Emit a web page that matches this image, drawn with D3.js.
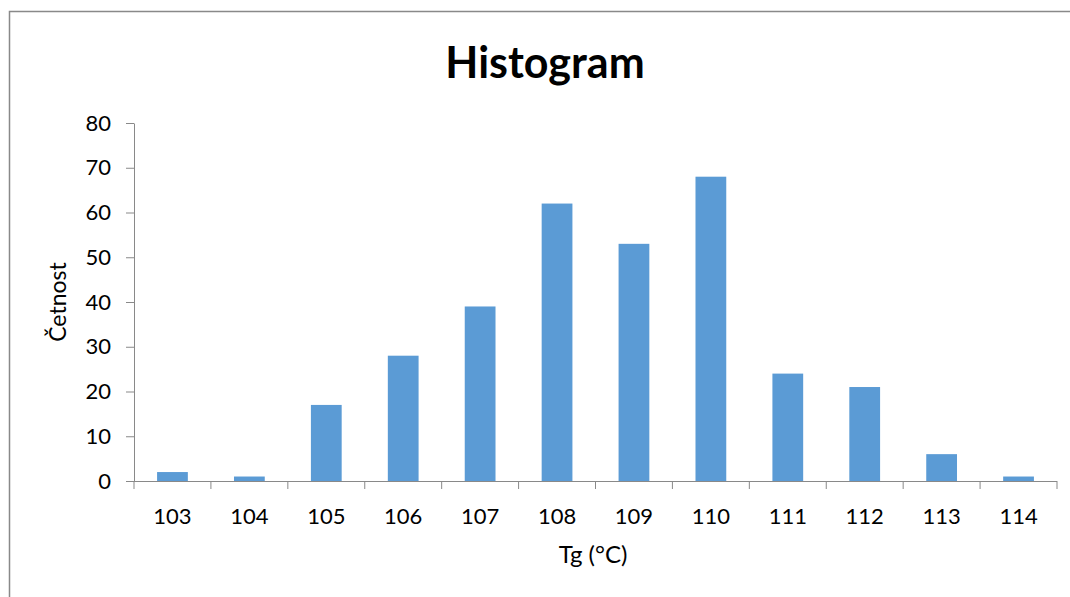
<!DOCTYPE html>
<html>
<head>
<meta charset="utf-8">
<script src="https://cdn.jsdelivr.net/npm/d3@7"></script>
<style>
  html, body { margin: 0; padding: 0; background: #fff; }
  svg { display: block; font-family: Lato, "Open Sans", sans-serif; }
</style>
</head>
<body>
<svg id="chart" width="1070" height="597"></svg>
<script>
// Histogram of glass transition temperatures
const categories = ["103", "104", "105", "106", "107", "108", "109", "110", "111", "112", "113", "114"];
const counts = [2, 1, 17, 28, 39, 62, 53, 68, 24, 21, 6, 1];
const yTicks = [0, 10, 20, 30, 40, 50, 60, 70, 80];

const svg = d3.select("#chart");
const W = 1070, H = 597;
const margin = { left: 134, right: 13, top: 123, bottom: 116 };
const innerW = W - margin.left - margin.right;
const innerH = H - margin.top - margin.bottom;
const axisColor = "#898989";
const fontStack = "Lato, 'Open Sans', sans-serif";

// chart frame
svg.append("path")
  .attr("d", `M9.5,${H} V11.5 H${W}`)
  .attr("fill", "none")
  .attr("stroke", axisColor)
  .attr("stroke-width", 1.5);

const x = d3.scaleBand().domain(categories).range([0, innerW]).paddingInner(0.6).paddingOuter(0.3);
const y = d3.scaleLinear().domain([0, 80]).range([innerH, 0]);

const g = svg.append("g").attr("transform", `translate(${margin.left},${margin.top})`);

// bars
g.selectAll("rect.bar")
  .data(counts)
  .join("rect")
  .attr("class", "bar")
  .attr("x", (d, i) => x(categories[i]))
  .attr("y", d => y(d))
  .attr("width", x.bandwidth())
  .attr("height", d => innerH - y(d))
  .attr("fill", "#5B9BD5");

// y axis
const yAxis = g.append("g")
  .call(d3.axisLeft(y).tickValues(yTicks).tickSize(8).tickPadding(15).tickSizeOuter(0))
  .attr("font-family", fontStack).attr("font-size", 22);
yAxis.select(".domain").attr("stroke", axisColor);
yAxis.selectAll(".tick line").attr("stroke", axisColor);
yAxis.selectAll("text").attr("fill", "#000");

// x axis with ticks at category boundaries
const step = innerW / categories.length;
const xAxis = g.append("g").attr("transform", `translate(0,${innerH})`)
  .call(d3.axisBottom(x).tickSize(0).tickPadding(27).tickSizeOuter(0))
  .attr("font-family", fontStack).attr("font-size", 22);
xAxis.select(".domain").attr("stroke", axisColor).attr("d", `M0,0.5H${innerW}`);
xAxis.selectAll("text").attr("fill", "#000");
xAxis.selectAll("line.bound")
  .data(d3.range(categories.length + 1))
  .join("line")
  .attr("class", "bound")
  .attr("x1", i => i * step).attr("x2", i => i * step)
  .attr("y1", 0).attr("y2", 8)
  .attr("stroke", axisColor);

// titles
svg.append("text")
  .attr("x", 545).attr("y", 78)
  .attr("text-anchor", "middle")
  .attr("font-size", 43).attr("font-weight", "bold")
  .text("Histogram");

svg.append("text")
  .attr("x", 593).attr("y", 563)
  .attr("text-anchor", "middle")
  .attr("font-size", 24)
  .text("Tg (°C)");

svg.append("text")
  .attr("transform", `translate(66,${margin.top + innerH / 2}) rotate(-90)`)
  .attr("text-anchor", "middle")
  .attr("font-size", 23)
  .text("Četnost");
</script>
</body>
</html>
